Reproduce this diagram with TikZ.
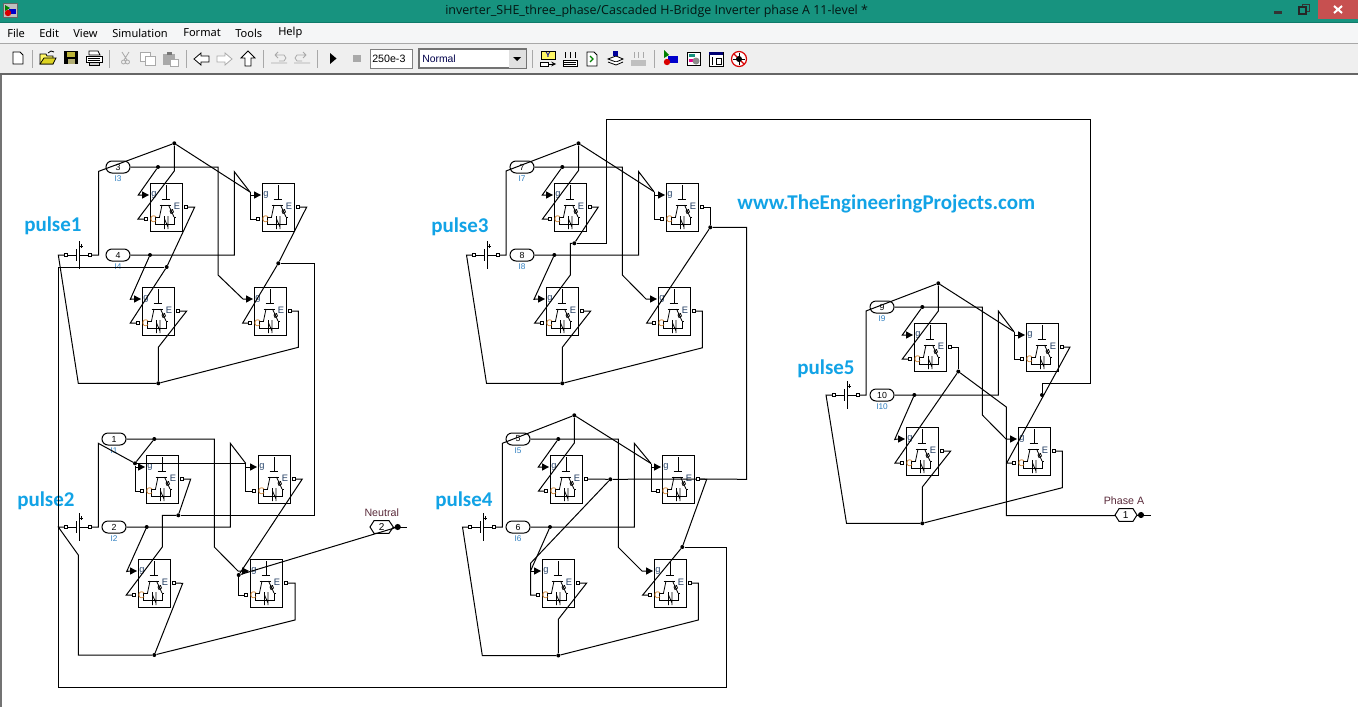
\documentclass[tikz,border=0pt]{standalone}
\usepackage{fontspec}
\setmainfont{Open Sans}
\newfontfamily\carl{Carlito}
\newfontfamily\lib{Liberation Sans}
\newfontfamily\tah{Noto Sans}
\usetikzlibrary{shapes.misc}
\definecolor{teal1}{HTML}{17937F}
\definecolor{teal2}{HTML}{0F7A6A}
\definecolor{menubg}{HTML}{F5F6F7}
\definecolor{toolbg}{HTML}{EFEFEF}
\definecolor{pulseblue}{HTML}{12A3E6}
\definecolor{lblue}{HTML}{2F7FC0}
\definecolor{gcol}{HTML}{2D4A70}
\definecolor{ccol}{HTML}{C8741A}
\definecolor{ecol}{HTML}{1F3A5F}
\definecolor{tagred}{HTML}{5A2A3A}
\definecolor{closered}{HTML}{C75050}
\definecolor{sep}{HTML}{A8A8A8}
\definecolor{gic}{HTML}{A9A9A9}
\tikzset{
 wire/.style={draw=black,line width=0.75pt,line join=miter},
 thin1/.style={draw=black,line width=0.6pt},
 blkbox/.style={draw=black,line width=0.75pt,fill=white,minimum width=24pt,minimum height=36pt,inner sep=0pt},
 port/.style={draw=black,line width=0.6pt,fill=white,minimum size=2.6pt,inner sep=0pt},
 jn/.style={circle,fill=black,minimum size=3pt,inner sep=0pt},
 pill/.style={rounded rectangle,draw=black,line width=0.75pt,fill=white,minimum width=18pt,minimum height=9pt,inner sep=0pt,font=\lib\fontsize{6.6pt}{7pt}\selectfont},
 plab/.style={font=\lib\fontsize{6.2pt}{7pt}\selectfont,text=lblue,inner sep=0pt},
 pulse/.style={font=\carl\bfseries\fontsize{15.75pt}{17pt}\selectfont,text=pulseblue,anchor=west,inner sep=0pt},
 portl/.style={font=\lib\fontsize{7pt}{8pt}\selectfont,inner sep=0pt},
 menu/.style={font=\tah\fontsize{8.3pt}{10pt}\selectfont,text=black,anchor=west,inner sep=0pt},
 sepl/.style={draw=sep,line width=0.75pt},
 icon/.style={draw=black,line width=0.6pt},
 gicon/.style={draw=gic,line width=0.6pt},
 taglab/.style={font=\lib\fontsize{8pt}{9pt}\selectfont,text=tagred,inner sep=0pt},
 tagnum/.style={inner sep=0pt,font=\lib\fontsize{7.5pt}{8pt}\selectfont},
 tagdot/.style={circle,fill=black,minimum size=4.6pt,inner sep=0pt}
}
% one IGBT block
\newcommand{\igbtblk}[3]{%
 \begin{scope}[shift={(#2,#3)}]
  \node[blkbox,anchor=north west] (#1) at (0,0) {};
  \draw[thin1] (16,2)--(16,16.5) (11.5,16.5)--(20,16.5) (9.5,22)--(21,22);
  \draw[thin1] (12,22)--(9.5,34) (18.5,22)--(24,34);
  \draw[thin1] (5,34)--(9.5,34) (5,34)--(5,41)--(24,41)--(24,34)--(26,34);
  \draw[thin1] (14.5,33)--(14.5,46) (18,33)--(18,46) (14.5,36)--(18,44);
  \draw[thin1] (20,28)--(22.5,26.5)--(23.5,29)--(21,30.5)--cycle;
  \node[port] (#1c) at (-4,36) {};
  \node[port] (#1e) at (36,24) {};
  \coordinate (#1g) at (-8,12);
  \fill[black] (-8,8.3)--(-1,12)--(-8,15.7)--cycle;
  \node[portl,text=gcol] at (4,11.5) {g};
  \node[portl,text=ccol] at (3.6,36) {C};
  \node[portl,text=ecol] at (27,23.7) {E};
 \end{scope}}
% bridge: blocks, source, two current sensors
\newcommand{\hbr}[8]{%
 \igbtblk{#1A}{#2}{#3}
 \pgfmathsetmacro{\xb}{#2+112}\pgfmathsetmacro{\xc}{#2-8}\pgfmathsetmacro{\xd}{#2+104}\pgfmathsetmacro{\yl}{#3+104}
 \igbtblk{#1B}{\xb}{#3}
 \igbtblk{#1C}{\xc}{\yl}
 \igbtblk{#1D}{\xd}{\yl}
 \pgfmathsetmacro{\sy}{#3+72}\pgfmathsetmacro{\sr}{#4+24}\pgfmathsetmacro{\pa}{#2-32}\pgfmathsetmacro{\pb}{#3-16}\pgfmathsetmacro{\la}{#3-4}\pgfmathsetmacro{\lb}{#3+84}
 \node[port] (#1Sm) at (#4,\sy) {};
 \node[port] (#1Sp) at (\sr,\sy) {};
 \node[pill] (#1P) at (\pa,\pb) {#5};
 \node[pill] (#1Q) at (\pa,\sy) {#7};
 \node[plab] at (\pa,\la) {#6};
 \node[plab] at (\pa,\lb) {#8};
 \begin{scope}[shift={(#4,\sy)}]
  \draw[wire] (2,0)--(10,0) (13.3,0)--(22,0) (10,-6)--(10,6) (13.3,-14)--(13.3,14);
  \draw[thin1] (15.5,-11)--(15.5,-7) (14,-9)--(17,-9);
 \end{scope}}
\begin{document}
\begin{tikzpicture}[x=0.75pt,y=-0.75pt]
\useasboundingbox (0,0) rectangle (1358,707);
\fill[white] (0,0) rectangle (1358,707);
% ---- window chrome
\fill[teal1] (0,0) rectangle (1358,22);
\fill[teal2] (0,22) rectangle (1358,23);
\fill[menubg] (0,23) rectangle (1358,43);
\fill[sep] (0,43) rectangle (1358,44);
\fill[toolbg] (0,44) rectangle (1358,73);
\fill[black!60] (0,73) rectangle (1358,75);
\fill[black!55] (0,75) rectangle (1.5,707);
\fill[closered] (1318,0) rectangle (1358,19);
\draw[white,line width=1.5pt] (1334,6)--(1342,13) (1342,6)--(1334,13);
\fill[black!80] (1274,11) rectangle (1282,13.5);
\draw[black!80,line width=0.75pt] (1302,7)--(1302,4)--(1309,4)--(1309,11)--(1306.5,11);
\draw[black!85,line width=0.9pt] (1299,7)--(1306,7)--(1306,14)--(1299,14)--cycle;
\node[font=\fontsize{9.35pt}{11pt}\selectfont,text=black!85!teal1,anchor=west,inner sep=0pt] (title) at (445,11) {inverter\_SHE\_three\_phase/Cascaded H-Bridge Inverter phase A 11-level *};
% app icon
\fill[black!25] (3,3) rectangle (17,17);
\draw[black!60,line width=0.5pt] (3,3) rectangle (17,17);
\fill[green!50!black] (5,5)--(5,11)--(10,8)--cycle;
\fill[blue!80!black] (9,9) rectangle (15.5,14);
\fill[red!85!black] (8,13) circle (3.2);
% menu
\node[menu] (mfile) at (7,33) {File};
\node[menu] (medit) at (39,33) {Edit};
\node[menu] (mview) at (73,33) {View};
\node[menu] (msim) at (112,33) {Simulation};
\node[menu] (mfmt) at (183,33) {Format};
\node[menu] (mtool) at (235,33) {Tools};
\node[menu] (mhelp) at (278,33) {Help};
% toolbar separators
\foreach \sx in {32,109,186,263,317,532,654} \draw[sepl] (\sx,50)--(\sx,68);
% new
\draw[icon,fill=white] (13,52)--(20,52)--(23,55)--(23,64)--(13,64)--cycle;
% open
\draw[icon,fill=yellow!60] (40,54)--(46,54)--(47,56)--(53,56)--(53,64)--(40,64)--cycle;
\draw[icon,fill=yellow!85!black] (40,64)--(44,58)--(56,58)--(53,64)--cycle;
\draw[icon] (48,53)--(51,51)--(54,52);
% save
\fill[black] (64,51) rectangle (78,64);
\fill[yellow!70!black] (67,52) rectangle (75,57);
\fill[yellow!50!black!70] (68,59) rectangle (75,64);
% print
\draw[icon,fill=white] (89,51)--(98,51)--(100,55)--(89,55)--cycle;
\draw[icon,fill=white] (86,56)--(102,56)--(102,62)--(86,62)--cycle;
\draw[icon,fill=black!20] (89,62)--(99,62)--(99,65)--(89,65)--cycle;
\draw[icon] (88,58)--(100,58) (88,60)--(100,60);
% cut copy paste (disabled)
\draw[gicon] (122,52)--(127,60) (129,52)--(124,60) (123.5,62) circle (2) (127.5,62) circle (2);
\draw[gicon,fill=white] (140,52) rectangle (150,61);
\draw[gicon,fill=white] (145,56) rectangle (155,65);
\fill[gic] (163,54) rectangle (175,65);
\draw[gicon,fill=white] (170,59) rectangle (178,66);
\fill[gic!70!black] (167,52) rectangle (172,55);
% history arrows
\draw[icon,fill=white] (194,59)--(201,53)--(201,56)--(209,56)--(209,62)--(201,62)--(201,65)--cycle;
\draw[gicon,fill=white] (232,59)--(225,53)--(225,56)--(217,56)--(217,62)--(225,62)--(225,65)--cycle;
\draw[icon,fill=white] (248,51)--(255,58)--(251,58)--(251,66)--(245,66)--(245,58)--(241,58)--cycle;
% undo redo
\draw[gicon] (271,63)--(287,63) (275,55)--(284,55)--(286,58)--(284,61)--(279,61) (275,55)--(278,52) (275,55)--(278,58);
\draw[gicon] (294,63)--(310,63) (306,55)--(297,55)--(295,58)--(297,61)--(302,61) (306,55)--(303,52) (306,55)--(303,58);
% play stop
\fill[black] (330,53)--(336.5,58.5)--(330,64)--cycle;
\fill[gic] (353,55) rectangle (361,62);
% stop time
\draw[draw=black!50,line width=0.75pt,fill=white] (370.5,49) rectangle (412,68);
\node[font=\lib\fontsize{8pt}{9pt}\selectfont,anchor=west,inner sep=0pt] (stoptime) at (372,59) {250e-3};
% mode
\draw[draw=black!55,line width=1pt,fill=white] (419,49) rectangle (526,68);
\node[font=\lib\fontsize{7.8pt}{9pt}\selectfont,anchor=west,inner sep=0pt,text=black!70!blue] (mode) at (422,59) {Normal};
\fill[black!12] (509,50) rectangle (525.5,67.5);
\fill[black] (513,57)--(521,57)--(517,61)--cycle;
% right icons
\draw[icon,fill=yellow!60] (541,51) rectangle (555,59);
\node[font=\lib\bfseries\fontsize{5.5pt}{6pt}\selectfont,text=blue!60!black,inner sep=0pt] (yicon) at (548,55) {Y};
\draw[icon,fill=white] (540,62) rectangle (548,66);
\draw[icon,-stealth] (548,64)--(556,64);
\draw[icon,fill=white] (563,60) rectangle (577,66);
\foreach \kx in {565,570,575} \draw[icon] (\kx,52)--(\kx,58);
\draw[icon] (564,62)--(576,62) (564,64)--(576,64);
\draw[icon,fill=white] (587,52)--(594,52)--(597,55)--(597,66)--(587,66)--cycle;
\draw[green!50!black,line width=0.9pt] (590,56)--(593,59)--(590,62);
\draw[icon,fill=white] (608,59)--(616,56)--(623,59)--(616,62)--cycle;
\draw[icon,fill=white] (608,62)--(616,65)--(623,62);
\fill[blue!60!black] (613,51) rectangle (618,56);
\fill[black!25] (631,60) rectangle (646,66);
\foreach \kx in {634,638.5,643} \draw[gicon] (\kx,52)--(\kx,58);
\fill[green!50!black] (664,50)--(664,58)--(669,55)--cycle;
\fill[blue!80!black] (668,56) rectangle (678,63);
\fill[red!85!black] (667,62) circle (3.2);
\draw[icon,fill=white] (687,52) rectangle (700,65);
\fill[teal1] (689,54) rectangle (695,57);
\fill[magenta] (689,59) rectangle (693,62);
\fill[black!45] (696,61) circle (3.5);
\draw[icon,fill=white] (709,52) rectangle (723,66);
\fill[blue!45!black] (709,52) rectangle (723,55);
\draw[icon] (712,57)--(712,65) (716,58) rectangle (721,64);
\draw[red!85!black,line width=0.9pt,fill=white] (739,59) circle (7.5);
\draw[red!85!black,line width=0.9pt] (734,54)--(744,64);
\fill[black] (739,59) circle (3);
\draw[black,line width=0.6pt] (733,59)--(745,59) (739,53)--(739,65);
% ---- texts on the canvas
\node[pulse] (lp1) at (24,226) {pulse1};
\node[pulse] (lp2) at (17,500.5) {pulse2};
\node[pulse] (lp3) at (431,227) {pulse3};
\node[pulse] (lp4) at (435,500.5) {pulse4};
\node[pulse] (lp5) at (797,369) {pulse5};
\node[pulse] (lweb) at (737,204) {www.TheEngineeringProjects.com};
% ---- bridges
\hbr{a}{150}{183}{66}{3}{I3}{4}{I4}
\hbr{b}{146}{455}{66}{1}{I1}{2}{I2}
\hbr{c}{554}{183}{474}{7}{I7}{8}{I8}
\hbr{d}{550}{455}{470}{5}{I5}{6}{I6}
\hbr{e}{914}{323}{834}{9}{I9}{10}{I10}
% output tags
\node[tagnum] (ntag) at (381.7,527) {2};
\node[taglab] (nlab) at (381.7,513) {Neutral};
\draw[wire] (370,527)--(374,520.7)--(389,520.7)--(393.3,527)--(389,533.3)--(374,533.3)--cycle;
\node[tagdot] (nport) at (397.7,527) {};
\coordinate (nend) at (406.7,527);
\draw[wire] (393.3,527)--(nend);
\node[tagnum] (ptag) at (1125.7,515) {1};
\node[taglab] (plab) at (1124,501) {Phase A};
\draw[wire] (1115,515)--(1119,508.7)--(1133,508.7)--(1137,515)--(1133,521.3)--(1119,521.3)--cycle;
\node[tagdot] (pport) at (1141,515) {};
\coordinate (pend) at (1151,515);
\draw[wire] (1137,515)--(pend);
% ---- junctions
\foreach \jname/\jx/\jy in {
 aT/174.3/143.3,aJ3/158/167,aJ4/150/255,aE/166.7/267,aF/278.3/263.3,aG/158.3/383.3,
 bT/135/463.3,bJ3/154.3/439,bJ4/146.7/527,bE/178.3/515.3,bN/238.7/575,bG/154.3/655,
 cT/578.5/143.3,cJ3/562.3/167,cJ4/554.3/255,cE/574.3/243.3,cF/710.3/227.3,cG/562.3/383.3,
 dT/574.3/415.3,dJ3/558.3/439,dJ4/550/527,dE/610.3/479.3,dH/682.3/547,dG/558.3/655.5,
 eT/938.3/283.3,eJ3/922.3/307,eJ4/914.3/395,eE/958.3/371.5,eH/1042/395,eG/922.3/523.3}
 {\node[jn] (\jname) at (\jx,\jy) {};}
\foreach \cname/\cx/\cy in {aK/250/192,aL/250/195,bK/245.7/463.3,bL/245.7/467,bM/135/467,
 cK/654/191.7,cL/654/195,dK/651/463.5,dL/651/467,dM/530.5/571,eK/1014/331.7,eL/1014/335}
 {\coordinate (\cname) at (\cx,\cy);}
% ---- wires, bridge 1
\draw[wire] (aSp)--(98.7,255)--(98.7,171.3)--(aT);
\draw[wire] (aT)--(174.3,171)--(138,219)--(aAc);
\draw[wire] (aT)--(aK);
\draw[wire] (aK)--(250,219)--(aBc);
\draw[wire] (aL)--(aBg);
\draw[wire] (aP.east)--(218,167)--(218,275)--(243,299)--(aDg);
\draw[wire] (aJ3)--(138.3,195)--(aAg);
\draw[wire] (aQ.east)--(234.3,255)--(234.3,171.7)--(aK);
\draw[wire] (aJ4)--(130.3,299.3)--(aCg);
\draw[wire] (aAe)--(194.7,207)--(aE);
\draw[wire] (aE)--(130.3,323)--(aCc);
\draw[wire] (aE)--(58.3,267)--(58.3,687)--(726.7,687)--(726.7,547)--(dH);
\draw[wire] (aSm)--(58.3,255)--(78.3,383.3)--(aG);
\draw[wire] (aG)--(158.3,347.3)--(186.7,311)--(aCe);
\draw[wire] (aG)--(298.3,347.3)--(298.3,311)--(aDe);
\draw[wire] (aBe)--(306.7,207)--(aF);
\draw[wire] (aF)--(242.7,323)--(aDc);
\draw[wire] (aF)--(314.7,263.3)--(314.7,515.3)--(bE);
% ---- wires, bridge 2
\draw[wire] (bSp)--(98.3,527)--(98.3,443.3)--(bT);
\draw[wire] (bT)--(bK);
\draw[wire] (bT)--(135,491)--(bAc);
\draw[wire] (bM)--(bAg);
\draw[wire] (bP.east)--(214.3,439)--(214.3,547)--(238,571)--(bDg);
\draw[wire] (bJ3)--(bT);
\draw[wire] (bQ.east)--(230.3,527)--(230.3,443.3)--(bK);
\draw[wire] (bK)--(245.7,491)--(bBc);
\draw[wire] (bL)--(bBg);
\draw[wire] (bJ4)--(126.7,571.5)--(bCg);
\draw[wire] (bAe)--(190.7,479)--(bE);
\draw[wire] (bE)--(162.3,515.3)--(162.3,547)--(126.3,595)--(bCc);
\draw[wire] (bBe)--(302.3,479)--(bN);
\draw[wire] (bN)--(238.7,595)--(bDc);
\draw[wire] (bN)--(nport);
\draw[wire] (bSm)--(58.3,527)--(78.3,555)--(78.3,655)--(bG);
\draw[wire] (bG)--(182.7,583.3)--(bCe);
\draw[wire] (bG)--(295,620)--(295,583)--(bDe);
% ---- wires, bridge 3
\draw[wire] (cSp)--(506,255)--(506,171)--(cT);
\draw[wire] (cT)--(578.5,170.5)--(542.5,219)--(cAc);
\draw[wire] (cT)--(cK);
\draw[wire] (cK)--(654,219)--(cBc);
\draw[wire] (cL)--(cBg);
\draw[wire] (cP.east)--(622.3,167)--(622.3,275)--(646,299)--(cDg);
\draw[wire] (cJ3)--(542.3,195)--(cAg);
\draw[wire] (cQ.east)--(638.7,255)--(638.7,171.7)--(cK);
\draw[wire] (cJ4)--(534,299.3)--(cCg);
\draw[wire] (cAe)--(598.3,207)--(cE);
\draw[wire] (cE)--(570.3,243.3)--(570.3,275)--(534.7,323)--(cCc);
\draw[wire] (cE)--(606.3,243.3)--(606.3,119.3)--(1090.3,119.3)--(1090.3,383.3)--(1042,383.3)--(eH);
\draw[wire] (cBe)--(710.3,207)--(cF);
\draw[wire] (cF)--(746.7,227.3)--(746.7,479.3)--(dBe);
\draw[wire] (cF)--(646.7,323)--(cDc);
\draw[wire] (cSm)--(466.5,255)--(486.5,383.3)--(cG);
\draw[wire] (cG)--(562.3,347.3)--(590.7,311)--(cCe);
\draw[wire] (cG)--(702.3,347.8)--(702.3,311)--(cDe);
% ---- wires, bridge 4
\draw[wire] (dSp)--(502.3,527)--(502.3,443.3)--(dT);
\draw[wire] (dT)--(574.3,443)--(538.5,491)--(dAc);
\draw[wire] (dT)--(dK);
\draw[wire] (dK)--(651,491)--(dBc);
\draw[wire] (dL)--(dBg);
\draw[wire] (dP.east)--(618.3,439)--(618.3,547.3)--(642,571)--(dDg);
\draw[wire] (dJ3)--(538.3,467)--(dAg);
\draw[wire] (dQ.east)--(634.3,527)--(634.3,443.3)--(dK);
\draw[wire] (dJ4)--(dM);
\draw[wire] (dM)--(dCg);
\draw[wire] (dE)--(530.5,563.3)--(530.5,595)--(dCc);
\draw[wire] (dAe)--(dE);
\draw[wire] (dE)--(dBe);
\draw[wire] (dBe)--(706.7,479.3)--(dH);
\draw[wire] (dH)--(642.7,595)--(dDc);
\draw[wire] (dSm)--(462.5,527)--(482.3,655.5)--(dG);
\draw[wire] (dG)--(558.3,619.3)--(586.7,583)--(dCe);
\draw[wire] (dG)--(698.3,620)--(698.3,583)--(dDe);
% ---- wires, bridge 5
\draw[wire] (eSp)--(866,395)--(866,311)--(eT);
\draw[wire] (eT)--(938.3,311)--(902.3,359)--(eAc);
\draw[wire] (eT)--(eK);
\draw[wire] (eK)--(1014,359)--(eBc);
\draw[wire] (eL)--(eBg);
\draw[wire] (eP.east)--(982.3,307)--(982.3,415)--(1006,439)--(eDg);
\draw[wire] (eJ3)--(902.3,335)--(eAg);
\draw[wire] (eQ.east)--(998.3,395)--(998.3,311)--(eK);
\draw[wire] (eJ4)--(894.7,439.5)--(eCg);
\draw[wire] (eAe)--(958.3,347)--(eE);
\draw[wire] (eE)--(1006.3,407)--(1006.3,515.5)--(1115,515.5);
\draw[wire] (eE)--(895,463)--(eCc);
\draw[wire] (eBe)--(1070,347)--(1006.7,463)--(eDc);
\draw[wire] (eSm)--(826,395)--(846.5,523.3)--(eG);
\draw[wire] (eG)--(922.3,487)--(950.7,451)--(eCe);
\draw[wire] (eG)--(1062.3,487.7)--(1062.3,451)--(eDe);
\end{tikzpicture}
\end{document}
